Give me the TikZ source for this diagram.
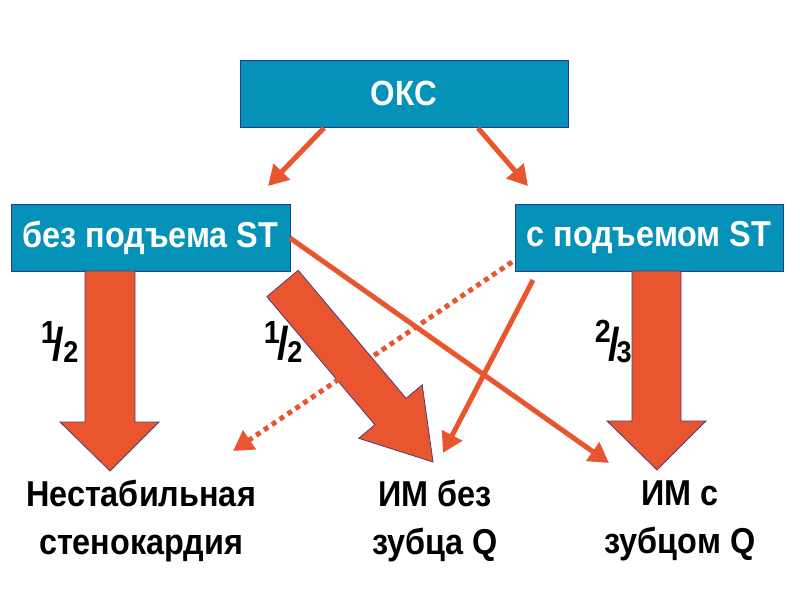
\documentclass[tikz,border=0pt]{standalone}
\usepackage{fontspec}
\setmainfont{Liberation Sans}[FakeStretch=0.9]
\usetikzlibrary{arrows.meta,calc}
\definecolor{boxteal}{RGB}{4,146,184}
\definecolor{boxedge}{RGB}{40,60,130}
\definecolor{orng}{RGB}{233,85,47}
\definecolor{arredge}{RGB}{80,60,120}
\begin{document}
\begin{tikzpicture}[x=1pt,y=-1pt,
  catbox/.style={draw=boxedge,line width=1pt,fill=boxteal,text=white,inner sep=0pt,
    font=\bfseries\fontsize{36}{40}\selectfont},
  outlbl/.style={align=center,font=\bfseries\fontsize{36}{48}\selectfont},
  fnum/.style={inner sep=0pt,anchor=base,font=\bfseries\fontsize{32}{32}\selectfont},
  fden/.style={inner sep=0pt,anchor=base,font=\bfseries\fontsize{30}{30}\selectfont},
  fsl/.style={inner sep=0pt,anchor=center,font=\bfseries\fontsize{46}{46}\selectfont},
  thin/.style={draw=orng,line width=5pt,-{Triangle[length=20pt,width=22pt]}},
  dots/.style={thin,dash pattern=on 5pt off 4.5pt},
  fat/.style={draw=arredge,line width=0.8pt,fill=orng,line join=miter}]
\useasboundingbox (0,0) rectangle (800,600);
% boxes
\node[catbox,minimum width=328pt,minimum height=67pt,font=\bfseries\fontsize{35}{40}\selectfont] (okc) at (404,93.5) {ОКС};
\node[catbox,minimum width=279pt,minimum height=67pt] (nost) at (150.5,237.5) {без подъема ST};
\node[catbox,minimum width=268pt,minimum height=67pt] (st) at (649,237.5) {с подъемом ST};
% outcome labels
\node[outlbl] (ua) at (141,521) {Нестабильная\\стенокардия};
\node[outlbl] (nq) at (435,521) {ИМ без\\зубца Q};
\node[outlbl] (q) at (680,521) {ИМ с\\зубцом Q};
% fat arrows
\draw[fat] (85,271) -- (85,422) -- (60,422) -- (110,471) -- (159,422) -- (135,422) -- (135,271) -- cycle;
\draw[fat] (632,271) -- (632,421) -- (607,421) -- (657,470) -- (706,421) -- (681,421) -- (681,271) -- cycle;
\begin{scope}[shift={(282.5,283.5)},rotate=-49.86]
\draw[fat] (0,-20.5) -- (167.5,-20.5) -- (167.5,-41.5) -- (233.5,0) -- (167.5,41.5) -- (167.5,20.5) -- (0,20.5) -- cycle;
\end{scope}
% fractions
\node[fnum] (f1n) at (49,343) {1};
\node[fsl]  (f1s) at (58,344) {/};
\node[fden] (f1d) at (71,362) {2};
\node[fnum] (f2n) at (272,343) {1};
\node[fsl]  (f2s) at (283,343) {/};
\node[fden] (f2d) at (295,362) {2};
\node[fnum] (f3n) at (603,342) {2};
\node[fsl]  (f3s) at (614,344) {/};
\node[fden] (f3d) at (624,362) {3};
% thin connectors
\coordinate (a1s) at (324,128);
\coordinate (a1e) at (268,186);
\coordinate (a2s) at (478,128);
\coordinate (a2e) at (528,186);
\coordinate (a3s) at (290,238);
\coordinate (a3e) at (609,463);
\coordinate (a4s) at (533,280);
\coordinate (a4e) at (443,453);
\coordinate (a5s) at (512,262);
\coordinate (a5e) at (233,451);
\draw[thin] (a1s) -- (a1e);
\draw[thin] (a2s) -- (a2e);
\draw[thin] (a3s) -- (a3e);
\draw[thin] (a4s) -- (a4e);
\draw[dots] (a5s) -- (a5e);
\end{tikzpicture}
\end{document}
